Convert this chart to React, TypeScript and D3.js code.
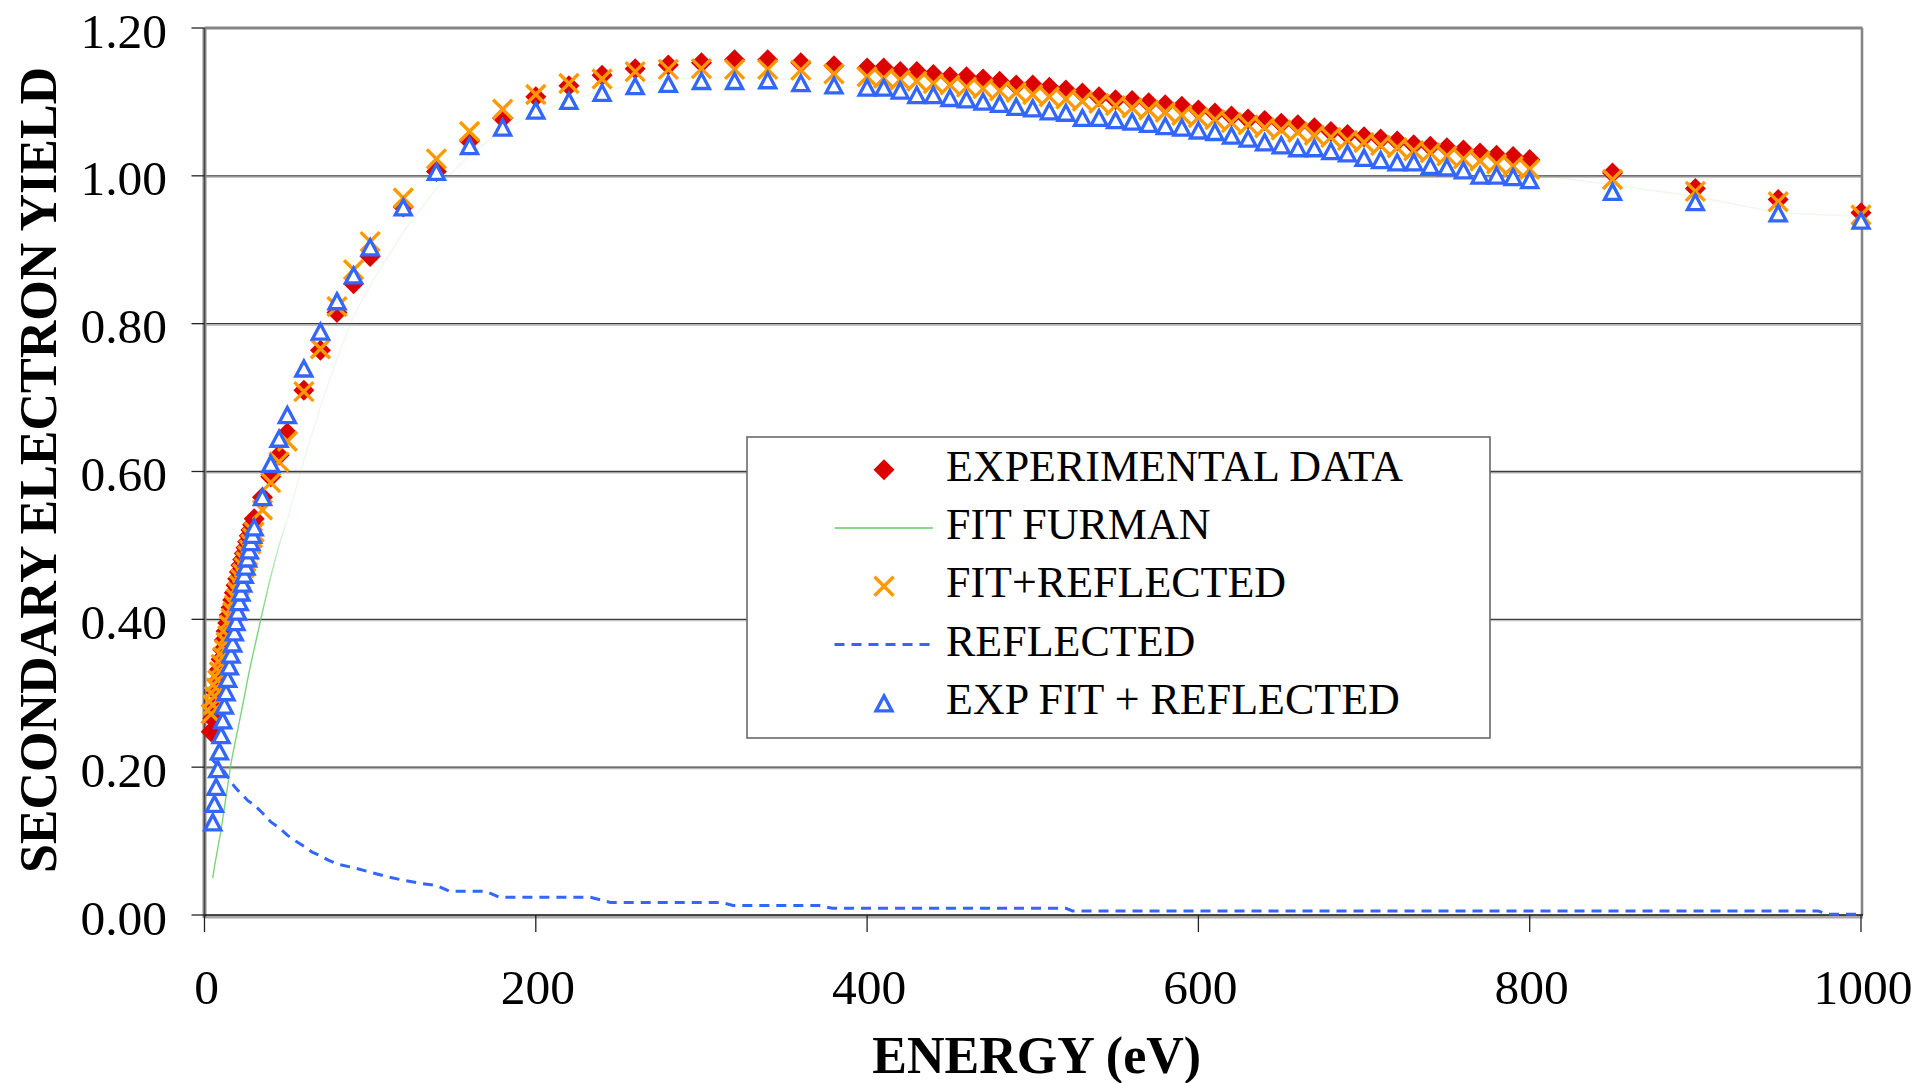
import React from 'react';
import * as d3 from 'd3';

// ---- data -------------------------------------------------------------
const energy = [
  4, 5, 6, 7, 8, 9, 10, 11, 12, 13, 14, 15, 16, 17, 18, 19, 20, 21, 22, 23, 24, 25, 26, 27, 28, 29, 30,
  35, 40, 45, 50, 60, 70, 80, 90, 100,
  120, 140, 160, 180, 200, 220, 240, 260, 280, 300, 320, 340, 360, 380,
  400, 410, 420, 430, 440, 450, 460, 470, 480, 490, 500, 510, 520, 530, 540, 550, 560, 570, 580, 590,
  600, 610, 620, 630, 640, 650, 660, 670, 680, 690, 700, 710, 720, 730, 740, 750, 760, 770, 780, 790,
  800, 850, 900, 950, 1000,
];

const experimental = [
  0.248, 0.266, 0.284, 0.301, 0.317, 0.332, 0.346, 0.359, 0.372, 0.384, 0.395, 0.406, 0.416, 0.426, 0.436, 0.446, 0.455, 0.464, 0.473, 0.481, 0.489, 0.497, 0.505, 0.513, 0.521, 0.528, 0.536,
  0.565, 0.593, 0.622, 0.652, 0.710, 0.764, 0.815, 0.854, 0.891,
  0.958, 1.006, 1.047, 1.078, 1.107, 1.122, 1.136, 1.145, 1.150, 1.153, 1.157, 1.157, 1.153, 1.149,
  1.146, 1.146, 1.141, 1.141, 1.137, 1.134, 1.134, 1.131, 1.128, 1.123, 1.123, 1.120, 1.116, 1.112, 1.107, 1.103, 1.102, 1.099, 1.096, 1.094,
  1.089, 1.085, 1.081, 1.077, 1.075, 1.071, 1.069, 1.065, 1.060, 1.056, 1.053, 1.050, 1.047, 1.042, 1.040, 1.038, 1.035, 1.031, 1.028, 1.026,
  1.022, 1.004, 0.983, 0.968, 0.950,
];

const fitReflected = [
  0.272, 0.284, 0.296, 0.307, 0.318, 0.329, 0.339, 0.349, 0.359, 0.369, 0.378, 0.392, 0.401, 0.410, 0.419, 0.428, 0.437, 0.446, 0.454, 0.462, 0.470, 0.478, 0.486, 0.494, 0.502, 0.510, 0.518,
  0.548, 0.585, 0.613, 0.641, 0.708, 0.766, 0.823, 0.873, 0.911,
  0.970, 1.023, 1.060, 1.090, 1.110, 1.125, 1.131, 1.141, 1.144, 1.145, 1.144, 1.144, 1.143, 1.138,
  1.134, 1.132, 1.130, 1.128, 1.125, 1.123, 1.120, 1.118, 1.115, 1.113, 1.110, 1.107, 1.104, 1.101, 1.098, 1.095, 1.092, 1.089, 1.086, 1.082,
  1.079, 1.076, 1.072, 1.069, 1.065, 1.062, 1.059, 1.055, 1.052, 1.048, 1.045, 1.041, 1.038, 1.034, 1.031, 1.027, 1.023, 1.020, 1.016, 1.013,
  1.009, 0.995, 0.979, 0.965, 0.947,
];

const expFitReflected = [
  null, 0.126, 0.151, 0.174, 0.198, 0.222, 0.244, 0.264, 0.284, 0.302, 0.320, 0.337, 0.353, 0.368, 0.383, 0.397, 0.411, 0.424, 0.437, 0.449, 0.461, 0.472, 0.483, 0.494, 0.505, 0.515, 0.525,
  0.566, 0.611, 0.645, 0.677, 0.740, 0.790, 0.831, 0.866, 0.904,
  0.958, 1.006, 1.041, 1.066, 1.089, 1.102, 1.113, 1.122, 1.125, 1.129, 1.129, 1.130, 1.126, 1.123,
  1.120, 1.120, 1.116, 1.110, 1.110, 1.106, 1.104, 1.101, 1.098, 1.094, 1.092, 1.088, 1.086, 1.079, 1.079, 1.076, 1.074, 1.071, 1.068, 1.066,
  1.062, 1.060, 1.055, 1.051, 1.046, 1.042, 1.038, 1.038, 1.034, 1.031, 1.025, 1.022, 1.019, 1.019, 1.014, 1.012, 1.008, 1.001, 1.001, 0.999,
  0.995, 0.979, 0.965, 0.950, 0.940,
];

const reflectedEnergy = [
  4, 6, 8, 10, 12, 14, 16, 18, 20, 22, 24, 26, 28, 30, 35, 40, 45, 50, 55, 60, 65, 70, 75, 80, 90, 100,
  110, 120, 130, 140, 148, 170, 178, 233, 245, 312, 319, 371, 379, 520, 524, 974, 980, 1000,
];
const reflectedYield = [
  0.212, 0.207, 0.203, 0.2, 0.194, 0.187, 0.18, 0.174, 0.169, 0.165, 0.16, 0.155, 0.152, 0.149, 0.138, 0.126, 0.118, 0.108, 0.1, 0.093, 0.085, 0.08, 0.074, 0.069, 0.064, 0.058,
  0.052, 0.047, 0.043, 0.04, 0.032, 0.032, 0.024, 0.024, 0.017, 0.017, 0.0128, 0.0128, 0.0091, 0.0091, 0.0055, 0.0055, 0.001, 0.001,
];

const furmanEnergy = [
  5, 6, 8, 10, 12, 14, 16, 18, 20, 22, 24, 26, 28, 30, 33, 35, 40, 45, 50, 60, 70, 80, 90, 100,
  120, 140, 160, 180, 200, 220, 240, 260, 280, 300, 320, 340, 360, 380, 400,
  450, 500, 550, 600, 650, 700, 750, 800, 850, 900, 950, 1000,
];
const furmanYield = [
  0.05, 0.065, 0.09, 0.115, 0.145, 0.175, 0.205, 0.228, 0.25, 0.272, 0.295, 0.318, 0.34, 0.36, 0.39, 0.41, 0.458, 0.5, 0.535, 0.615, 0.688, 0.753, 0.81, 0.852,
  0.924, 0.983, 1.028, 1.062, 1.085, 1.102, 1.114, 1.124, 1.13, 1.133, 1.133, 1.133, 1.129, 1.121, 1.118,
  1.108, 1.096, 1.083, 1.069, 1.054, 1.038, 1.02, 1.002, 0.988, 0.972, 0.95, 0.945,
];

const xTicks = [0, 200, 400, 600, 800, 1000];
const yTicks = [0, 0.2, 0.4, 0.6, 0.8, 1.0, 1.2];
const legendLabels = ['EXPERIMENTAL DATA', 'FIT FURMAN', 'FIT+REFLECTED', 'REFLECTED', 'EXP FIT + REFLECTED'];

// ---- styling ----------------------------------------------------------
const RED = '#dc0000';
const ORANGE = '#ff9900';
const BLUE = '#3366ff';
const GREEN = '#66cc66';
const FONT = '"Liberation Serif", "Times New Roman", serif';

const DIAMOND = 'M0,-10.5L10.5,0L0,10.5L-10.5,0Z';
const TRIANGLE = 'M0,-7L8,8L-8,8Z';

const Diamond = ({ cx, cy }: { cx: number; cy: number }) => (
  <path d={DIAMOND} transform={`translate(${cx},${cy})`} fill={RED} />
);
const Cross = ({ cx, cy }: { cx: number; cy: number }) => (
  <g transform={`translate(${cx},${cy})`} stroke={ORANGE} strokeWidth={3.4}>
    <line x1={-9.5} y1={-9.5} x2={9.5} y2={9.5} />
    <line x1={-9.5} y1={9.5} x2={9.5} y2={-9.5} />
  </g>
);
const Triangle = ({ cx, cy }: { cx: number; cy: number }) => (
  <path d={TRIANGLE} transform={`translate(${cx},${cy})`} fill="#fff" stroke={BLUE} strokeWidth={3.3} />
);

export default function App() {
  const left = 204.5, right = 1861, top = 28, bottom = 915;
  const x = d3.scaleLinear().domain([0, 1000]).range([left, right]);
  const y = d3.scaleLinear().domain([0, 1.2]).range([bottom, top]);
  const line = d3.line<[number, number]>().x((d) => x(d[0])).y((d) => y(d[1]));

  const furmanPath = line(furmanEnergy.map((e, i) => [e, furmanYield[i]]) as [number, number][]) || '';
  const reflectedPath = line(reflectedEnergy.map((e, i) => [e, reflectedYield[i]]) as [number, number][]) || '';

  const lg = { x: 747, y: 437, w: 743, h: 301, sym: 884, lineX0: 834.5, lineX1: 933, textX: 946, base0: 480.7, step: 58.3 };

  return (
    <svg width={1932} height={1083} style={{ position: 'absolute', left: 0, top: 0, background: '#fff' }} fontFamily={FONT}>
      <defs>
        {/* the thin fit curve reads clearly only along its steep low-energy rise */}
        <linearGradient id="furmanStroke" gradientUnits="userSpaceOnUse" x1={x(0)} x2={x(1000)} y1={0} y2={0}>
          <stop offset="0" stopColor={GREEN} stopOpacity={0.85} />
          <stop offset={0.034} stopColor={GREEN} stopOpacity={0.85} />
          <stop offset={0.05} stopColor={GREEN} stopOpacity={0.12} />
          <stop offset="1" stopColor={GREEN} stopOpacity={0.12} />
        </linearGradient>
      </defs>
      <rect x={0} y={0} width={1932} height={1083} fill="#fff" />

      {/* horizontal gridlines */}
      {yTicks.filter((t) => t > 0 && t < 1.2).map((t) => (
        <g key={`g${t}`}>
          <line x1={left} x2={right} y1={y(t) + 1.4} y2={y(t) + 1.4} stroke="#b4b4b4" strokeWidth={1.2} />
          <line x1={left} x2={right} y1={y(t)} y2={y(t)} stroke="#3c3c3c" strokeWidth={1.3} />
        </g>
      ))}

      {/* plot frame */}
      <line x1={left} x2={right + 1.5} y1={top} y2={top} stroke="#858585" strokeWidth={3} />
      <line x1={right + 1} x2={right + 1} y1={top} y2={bottom} stroke="#858585" strokeWidth={2.6} />
      <line x1={left} x2={right + 2} y1={bottom + 2} y2={bottom + 2} stroke="#a8a8a8" strokeWidth={3} />
      <line x1={left} x2={left} y1={top} y2={bottom + 3} stroke="#8c8c8c" strokeWidth={4} />
      <line x1={left} x2={left} y1={top} y2={bottom} stroke="#4a4a4a" strokeWidth={1.4} />
      <line x1={left} x2={right + 2} y1={bottom} y2={bottom} stroke="#111" strokeWidth={1.6} />

      {/* ticks */}
      {yTicks.map((t) => (
        <line key={`yt${t}`} x1={191.5} x2={left} y1={y(t)} y2={y(t)} stroke="#222" strokeWidth={1.3} />
      ))}
      {xTicks.map((t) => (
        <line key={`xt${t}`} x1={x(t)} x2={x(t)} y1={bottom} y2={bottom + 17} stroke="#222" strokeWidth={1.3} />
      ))}

      {/* tick labels */}
      {yTicks.map((t) => (
        <text key={`yl${t}`} x={167} y={y(t) + 19.5} textAnchor="end" fontSize={49.5} fill="#000">
          {t.toFixed(2)}
        </text>
      ))}
      {xTicks.map((t) => (
        <text key={`xl${t}`} x={x(t) + 2} y={1003.5} textAnchor="middle" fontSize={49.5} fill="#000">
          {t}
        </text>
      ))}

      {/* axis titles */}
      <text x={1036.7} y={1073} textAnchor="middle" fontSize={52} fontWeight="bold" fill="#000">
        ENERGY (eV)
      </text>
      <text transform="translate(56,470) rotate(-90)" textAnchor="middle" fontSize={52} fontWeight="bold" fill="#000">
        SECONDARY ELECTRON YIELD
      </text>

      {/* series, in plotting order */}
      <g>
        {energy.map((e, i) => (
          <Diamond key={`d${i}`} cx={x(e)} cy={y(experimental[i])} />
        ))}
      </g>
      <path d={furmanPath} fill="none" stroke="url(#furmanStroke)" strokeWidth={1.4} />
      <g>
        {energy.map((e, i) => (
          <Cross key={`c${i}`} cx={x(e)} cy={y(fitReflected[i])} />
        ))}
      </g>
      <path d={reflectedPath} fill="none" stroke={BLUE} strokeWidth={3} strokeDasharray="10 7" />
      <g>
        {energy.map((e, i) =>
          expFitReflected[i] == null ? null : (
            <Triangle key={`t${i}`} cx={x(e)} cy={y(expFitReflected[i] as number)} />
          )
        )}
      </g>

      {/* legend */}
      <rect x={lg.x} y={lg.y} width={lg.w} height={lg.h} fill="#fff" stroke="#6a6a6a" strokeWidth={1.6} />
      {legendLabels.map((label, i) => {
        const base = lg.base0 + i * lg.step;
        const cy = base - 11;
        let sym: React.ReactNode = null;
        if (i === 0) sym = <Diamond cx={lg.sym} cy={cy} />;
        if (i === 1) sym = <line x1={lg.lineX0} x2={lg.lineX1} y1={cy} y2={cy} stroke={GREEN} strokeWidth={1.5} />;
        if (i === 2) sym = <Cross cx={lg.sym} cy={cy} />;
        if (i === 3)
          sym = <line x1={lg.lineX0} x2={lg.lineX1} y1={cy} y2={cy} stroke={BLUE} strokeWidth={3} strokeDasharray="10 7" />;
        if (i === 4) sym = <Triangle cx={lg.sym} cy={cy} />;
        return (
          <g key={label}>
            {sym}
            <text x={lg.textX} y={base} fontSize={44} fill="#000">
              {label}
            </text>
          </g>
        );
      })}
    </svg>
  );
}
